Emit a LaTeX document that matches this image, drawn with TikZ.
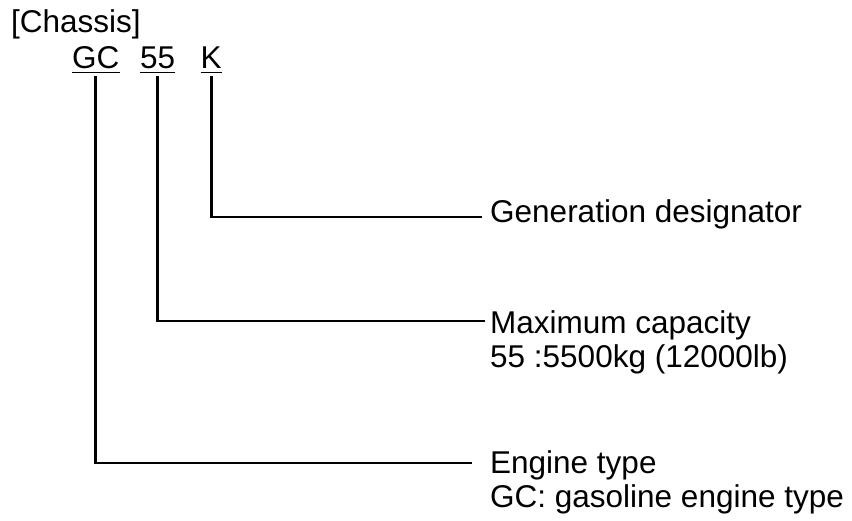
\documentclass[tikz,border=0pt]{standalone}
\usepackage{fontspec}
\setmainfont{Liberation Sans}
\usepackage{tikz}
\usetikzlibrary{positioning,calc}

\begin{document}
\begin{tikzpicture}[
    x=1pt, y=-1pt,
    font=\fontsize{31.5}{34}\selectfont,
    code/.style={inner sep=0pt, anchor=base west},
    label/.style={inner sep=0pt, anchor=base west},
    lead/.style={line width=2.7pt, line cap=butt, line join=miter},
    uline/.style={line width=1.8pt}
]
\useasboundingbox (0,0) rectangle (852,520);

\node[label] (title) at (11,32) {[Chassis]};
\node[code] (gc) at (72,68.5) {GC};
\node[code] (cap) at (140,68.5) {55};
\node[code] (gen) at (200.5,68.5) {K};

\node[label] (genlbl) at (490,222) {Generation designator};
\node[label] (caplbl) at (490,333) {Maximum capacity};
\node[label] (capval) at (490,367) {55 :5500kg (12000lb)};
\node[label] (englbl) at (490,473) {Engine type};
\node[label] (engval) at (490,507) {GC: gasoline engine type};

% underlines
\foreach \n in {gc,cap,gen}
  \draw[uline] ([yshift=-4pt]\n.base west) -- ([yshift=-4pt]\n.base east);

% leader line ends
\coordinate (genend) at (482,217);
\coordinate (capend) at (485,321);
\coordinate (engend) at (472,463);

\draw[lead] ([yshift=-7.5pt]gen.base) |- (genend);
\draw[lead] ([yshift=-7.5pt]cap.base) |- (capend);
\draw[lead] ([yshift=-7.5pt]gc.base) |- (engend);
\end{tikzpicture}
\end{document}
